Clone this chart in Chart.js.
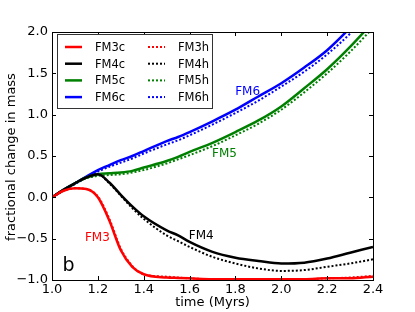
<!DOCTYPE html>
<html>
<head>
<meta charset="utf-8">
<script src="https://cdn.jsdelivr.net/npm/chart.js@4.4.1/dist/chart.umd.min.js"></script>
<style>
  html, body { margin: 0; padding: 0; background: #fff; }
  #wrap { width: 415px; height: 312px; }
</style>
</head>
<body>
<div id="wrap"><canvas id="chart" width="415" height="312"></canvas></div>
<script>
// temps (Myrs) commun à toutes les séries
const times = [1.0, 1.05, 1.1, 1.15, 1.2, 1.25, 1.3, 1.35, 1.4, 1.5, 1.55, 1.6, 1.7, 1.8, 1.9, 2.0, 2.1, 2.2, 2.3, 2.4];

const fm3c = [0, 0.08, 0.11, 0.10, 0.0, -0.28, -0.64, -0.84, -0.93, -0.97, -0.975, -0.98, -0.99, -0.99, -0.99, -0.99, -0.99, -0.98, -0.98, -0.96];
const fm4c = [0, 0.09, 0.17, 0.24, 0.28, 0.18, 0.03, -0.11, -0.23, -0.40, -0.46, -0.54, -0.66, -0.73, -0.77, -0.80, -0.79, -0.74, -0.67, -0.60];
const fm5c = [0, 0.09, 0.17, 0.24, 0.28, 0.29, 0.30, 0.32, 0.36, 0.44, 0.49, 0.55, 0.66, 0.79, 0.93, 1.10, 1.32, 1.55, 1.82, 2.12];
const fm6c = [0, 0.09, 0.17, 0.25, 0.33, 0.39, 0.45, 0.50, 0.56, 0.68, 0.73, 0.79, 0.92, 1.06, 1.22, 1.38, 1.57, 1.78, 2.05, 2.35];

const fm3h = [0, 0.08, 0.11, 0.10, 0.01, -0.26, -0.62, -0.83, -0.93, -0.96, -0.97, -0.98, -0.99, -0.99, -0.99, -0.99, -0.99, -0.98, -0.97, -0.95];
const fm4h = [0, 0.09, 0.17, 0.24, 0.28, 0.17, 0.02, -0.13, -0.26, -0.46, -0.53, -0.60, -0.72, -0.80, -0.86, -0.89, -0.88, -0.84, -0.80, -0.75];
const fm5h = [0, 0.09, 0.17, 0.23, 0.26, 0.27, 0.28, 0.30, 0.33, 0.41, 0.46, 0.51, 0.62, 0.75, 0.89, 1.06, 1.27, 1.50, 1.76, 2.05];
const fm6h = [0, 0.08, 0.16, 0.24, 0.31, 0.37, 0.42, 0.47, 0.53, 0.64, 0.69, 0.75, 0.88, 1.02, 1.17, 1.34, 1.52, 1.73, 1.98, 2.28];

const xTicks = [1.0, 1.2, 1.4, 1.6, 1.8, 2.0, 2.2, 2.4];
const yTicks = [-1.0, -0.5, 0.0, 0.5, 1.0, 1.5, 2.0];

// étiquettes dans le graphe : [texte, x, y (ligne de base), couleur]
const annotations = [
    ['FM3', 1.198, -0.523, '#ff0000'],
    ['FM4', 1.651, -0.51, '#000000'],
    ['FM5', 1.752, 0.487, '#008000'],
    ['FM6', 1.853, 1.237, '#0000ff']
];

const FONT = '"DejaVu Sans", sans-serif';
const fmt = v => v.toFixed(1).replace('-', '\u2212');

function series(label, values, color, dotted) {
    return {
        label: label,
        data: times.map((t, i) => ({ x: t, y: values[i] })),
        borderColor: color,
        borderWidth: dotted ? 2 : 2.5,
        borderDash: dotted ? [2, 2] : [],
        pointRadius: 0,
        cubicInterpolationMode: 'monotone',
        fill: false
    };
}

const datasets = [
    series('FM3c', fm3c, '#ff0000', false),
    series('FM4c', fm4c, '#000000', false),
    series('FM5c', fm5c, '#008000', false),
    series('FM6c', fm6c, '#0000ff', false),
    series('FM3h', fm3h, '#ff0000', true),
    series('FM4h', fm4h, '#000000', true),
    series('FM5h', fm5h, '#008000', true),
    series('FM6h', fm6h, '#0000ff', true)
];

// ticks vers l'intérieur, cadre, légende, textes
const decorations = {
    id: 'decorations',
    afterDraw(chart) {
        const ctx = chart.ctx;
        const a = chart.chartArea;
        const xs = chart.scales.x, ys = chart.scales.y;
        ctx.save();
        ctx.strokeStyle = '#000';
        ctx.lineWidth = 1;
        ctx.strokeRect(Math.round(a.left) + 0.5, Math.round(a.top) + 0.5,
            Math.round(a.right - a.left), Math.round(a.bottom - a.top));
        ctx.beginPath();
        xTicks.forEach(v => {
            const px = Math.round(xs.getPixelForValue(v)) + 0.5;
            ctx.moveTo(px, a.bottom); ctx.lineTo(px, a.bottom - 4);
            ctx.moveTo(px, a.top); ctx.lineTo(px, a.top + 4);
        });
        yTicks.forEach(v => {
            const py = Math.round(ys.getPixelForValue(v)) + 0.5;
            ctx.moveTo(a.left, py); ctx.lineTo(a.left + 4, py);
            ctx.moveTo(a.right, py); ctx.lineTo(a.right - 4, py);
        });
        ctx.stroke();

        // titres des axes
        ctx.fillStyle = '#000';
        ctx.font = '13px ' + FONT;
        ctx.textAlign = 'center';
        ctx.textBaseline = 'middle';
        ctx.fillText('time (Myrs)', (a.left + a.right) / 2, 303);
        ctx.save();
        ctx.setTransform(0, -1, 1, 0, 12, 157);
        ctx.fillText('fractional change in mass', 0, 0);
        ctx.restore();

        // annotations
        ctx.textBaseline = 'alphabetic';
        ctx.font = '12px ' + FONT;
        annotations.forEach(([txt, x, y, c]) => {
            ctx.fillStyle = c;
            ctx.fillText(txt, xs.getPixelForValue(x), ys.getPixelForValue(y));
        });
        ctx.fillStyle = '#000';
        ctx.font = '19px ' + FONT;
        ctx.fillText('b', 68.5, 271);

        // légende
        const lx = 57, ly = 34, lw = 155, lh = 74;
        ctx.fillStyle = '#fff';
        ctx.fillRect(lx, ly, lw, lh);
        ctx.strokeStyle = '#333';
        ctx.strokeRect(lx + 0.5, ly + 0.5, lw, lh);
        ctx.font = '11.5px ' + FONT;
        ctx.textAlign = 'left';
        ctx.textBaseline = 'middle';
        chart.data.datasets.forEach((ds, i) => {
            const col = Math.floor(i / 4), row = i % 4;
            const x0 = lx + 8 + col * 83;
            const y0 = ly + 13 + row * 16.7;
            ctx.beginPath();
            ctx.strokeStyle = ds.borderColor;
            ctx.lineWidth = ds.borderWidth;
            ctx.setLineDash(ds.borderDash);
            ctx.moveTo(x0, y0); ctx.lineTo(x0 + 17, y0);
            ctx.stroke();
            ctx.setLineDash([]);
            ctx.fillStyle = '#000';
            ctx.fillText(ds.label, x0 + 30, y0 + 1);
        });
        ctx.restore();
    }
};

new Chart(document.getElementById('chart'), {
    type: 'line',
    data: { datasets: datasets },
    options: {
        responsive: false,
        animation: false,
        layout: { padding: { left: 0, right: 42, top: 32, bottom: 0 } },
        plugins: { legend: { display: false }, tooltip: { enabled: false } },
        scales: {
            x: {
                type: 'linear', min: 1.0, max: 2.4,
                afterFit: s => { s.height = 32; },
                afterBuildTicks: s => { s.ticks = xTicks.map(v => ({ value: v })); },
                grid: { display: false, drawTicks: false },
                border: { display: false },
                ticks: { color: '#000', font: { family: FONT, size: 13 }, padding: 2, maxRotation: 0, callback: fmt }
            },
            y: {
                type: 'linear', min: -1.0, max: 2.0,
                afterFit: s => { s.width = 52; },
                afterBuildTicks: s => { s.ticks = yTicks.map(v => ({ value: v })); },
                grid: { display: false, drawTicks: false },
                border: { display: false },
                ticks: { color: '#000', font: { family: FONT, size: 13 }, padding: 4, callback: fmt }
            }
        }
    },
    plugins: [decorations]
});
</script>
</body>
</html>
